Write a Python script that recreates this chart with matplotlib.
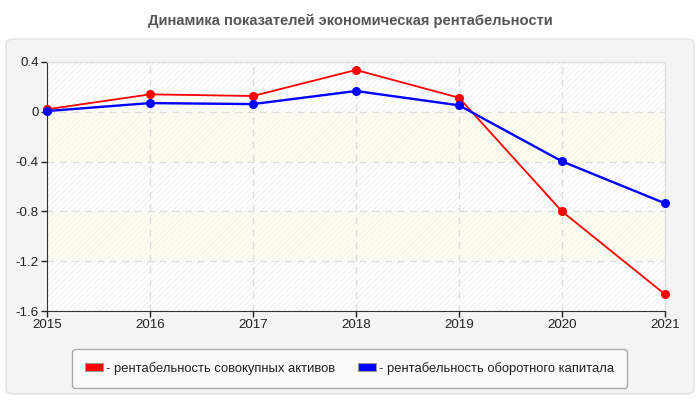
import matplotlib.pyplot as plt
from matplotlib.patches import FancyBboxPatch, Patch
import numpy as np

plt.rcParams['font.family'] = ['Liberation Sans', 'DejaVu Sans']
plt.rcParams['hatch.linewidth'] = 0.6

# data
years = [2015, 2016, 2017, 2018, 2019, 2020, 2021]
assets = [0.02, 0.14, 0.127, 0.336, 0.113, -0.80, -1.466]
working = [0.006, 0.07, 0.062, 0.167, 0.052, -0.398, -0.735]
yticks = [0.4, 0, -0.4, -0.8, -1.2, -1.6]
title = 'Динамика показателей экономическая рентабельности'
labels = ['- рентабельность совокупных активов', '- рентабельность оборотного капитала']

fig = plt.figure(figsize=(7, 4), dpi=100)
fig.patch.set_facecolor('white')

# outer panel
panel = FancyBboxPatch((6 / 700, 6 / 400), 688 / 700, 355 / 400,
                       boxstyle='round,pad=0,rounding_size=0.012',
                       transform=fig.transFigure, facecolor='#f4f4f4',
                       edgecolor='#e2e2e2', linewidth=1, zorder=-10)
fig.patches.append(panel)

fig.text(0.5, 0.948, title, ha='center', va='center', fontsize=10.6,
         fontweight='bold', color='#555555')

ax = fig.add_axes([47 / 700, 1 - 311 / 400, 618 / 700, 249 / 400])
ax.set_facecolor('white')

# alternating bands
for i in range(len(yticks) - 1):
    hi, lo = yticks[i], yticks[i + 1]
    if i % 2 == 0:
        ax.axhspan(lo, hi, facecolor='white', edgecolor='#ececec',
                   hatch='//////', linewidth=0, zorder=0)
    else:
        ax.axhspan(lo, hi, facecolor='#fcfcf2', edgecolor='#f4f4e6',
                   hatch='//////', linewidth=0, zorder=0)

ax.grid(True, color='#dddddd', linestyle=(0, (5, 4)), linewidth=1, zorder=1)

ax.plot(years, assets, color='#ff0000', linewidth=1.3, marker='o',
        markersize=5.5, clip_on=False, zorder=3)
ax.plot(years, working, color='#0000ff', linewidth=1.7, marker='o',
        markersize=5.5, clip_on=False, zorder=4)

ax.set_xlim(2015, 2021)
ax.set_ylim(-1.6, 0.4)
ax.set_xticks(years)
ax.set_yticks(yticks)
ax.set_yticklabels(['0.4', '0', '-0.4', '-0.8', '-1.2', '-1.6'])
ax.tick_params(labelsize=9.6, colors='#222222', length=4, width=1, pad=2)

for s in ['top', 'right']:
    ax.spines[s].set_color('#dddddd')
for s in ['left', 'bottom']:
    ax.spines[s].set_color('#333333')

handles = [Patch(facecolor='#ff0000', edgecolor='#999999', linewidth=0.8),
           Patch(facecolor='#0000ff', edgecolor='#999999', linewidth=0.8)]
leg = fig.legend(handles, labels, ncol=2, loc='lower left',
                 bbox_to_anchor=(72 / 700, 1 - 388 / 400, 555 / 700, 41 / 400),
                 mode='expand', fontsize=9.4, frameon=True, fancybox=True,
                 handlelength=1.4, handleheight=0.6, handletextpad=0.2,
                 borderpad=1.0, borderaxespad=0)
leg.get_frame().set_facecolor('#fafafa')
leg.get_frame().set_edgecolor('#aaaaaa')
leg.get_frame().set_alpha(1)
for t in leg.get_texts():
    t.set_color('#222222')

fig.savefig('out.png', dpi=100)
